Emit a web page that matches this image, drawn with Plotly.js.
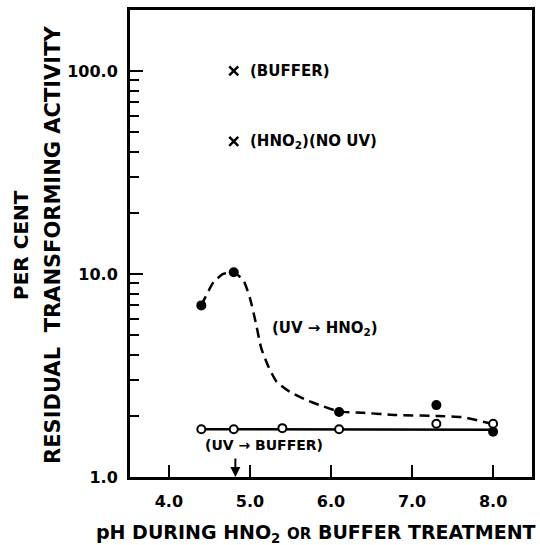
<!DOCTYPE html>
<html>
<head>
<meta charset="utf-8">
<script src="https://cdn.plot.ly/plotly-3.0.1.min.js"></script>
<style>html,body{margin:0;padding:0;background:#fff;}#chart{width:540px;height:545px;}</style>
</head>
<body>
<div id="chart"></div>
<script>
// UV -> HNO2 (filled circles)
var hno2X = [4.4, 4.8, 6.1, 7.3, 8.0];
var hno2Y = [7.0, 10.2, 2.09, 2.26, 1.67];
// UV -> buffer (open circles)
var bufX = [4.4, 4.8, 5.4, 6.1, 7.3, 8.0];
var bufY = [1.72, 1.72, 1.74, 1.72, 1.83, 1.83];
// hand-drawn dashed curve through the UV -> HNO2 data
var curveX = [4.4, 4.55, 4.67, 4.8, 4.92, 5.0, 5.07, 5.14, 5.23, 5.33, 5.49, 5.70, 5.90, 6.1, 6.4, 6.8, 7.3, 7.63, 7.88, 8.0];
var curveY = [7.0, 9.1, 10.0, 10.2, 9.3, 7.6, 5.8, 4.3, 3.48, 2.94, 2.63, 2.39, 2.23, 2.10, 2.07, 2.02, 2.00, 1.97, 1.87, 1.82];
// solid line through the UV -> buffer data
var lineX = [4.4, 8.0];
var lineY = [1.72, 1.71];
// controls (X marks)
var ctrlX = [4.8, 4.8];
var ctrlY = [100, 45];
var ctrlLabels = ["(BUFFER)", "(HNO<sub>2</sub>)(NO UV)"];
// axis ticks
var yTickVals = [1, 10, 100];
var yTickText = ["1.0", "10.0", "100.0"];
var yMinorVals = [2,3,4,5,6,7,8,9,20,30,40,50,60,70,80,90,200];
var xTickVals = [4, 5, 6, 7, 8];
var xTickText = ["4.0", "5.0", "6.0", "7.0", "8.0"];
var arrowX = 4.82;

var FONT = "DejaVu Sans, sans-serif";
var traces = [
  {x: curveX, y: curveY, mode: "lines", line: {color: "#000", width: 2.5, dash: "10px,6px", shape: "spline", smoothing: 0.5}, hoverinfo: "skip"},
  {x: lineX, y: lineY, mode: "lines", line: {color: "#000", width: 2.5}, hoverinfo: "skip"},
  {x: hno2X, y: hno2Y, mode: "markers", marker: {color: "#000", size: 10, symbol: "circle"}},
  {x: bufX, y: bufY, mode: "markers", marker: {color: "#fff", size: 8, symbol: "circle", line: {color: "#000", width: 2}}},
  {x: ctrlX, y: ctrlY, mode: "markers", marker: {color: "#000", size: 9, symbol: "x-thin", line: {color: "#000", width: 2.5}}}
];

var ann = [];
for (var i = 0; i < ctrlX.length; i++) {
  ann.push({x: 4.975, y: Math.log10(ctrlY[i]), xref: "x", yref: "y", text: ctrlLabels[i], showarrow: false, xanchor: "left", yanchor: "middle", font: {family: FONT, size: 15, color: "#000", weight: "bold"}});
}
ann.push({x: 5.25, y: Math.log10(5.4), xref: "x", yref: "y", text: "(UV \u2192 HNO<sub>2</sub>)", showarrow: false, xanchor: "left", yanchor: "middle", font: {family: FONT, size: 15, color: "#000", weight: "bold"}});
ann.push({x: 4.42, y: Math.log10(1.44), xref: "x", yref: "y", text: "(UV \u2192 BUFFER)", showarrow: false, xanchor: "left", yanchor: "middle", font: {family: FONT, size: 14, color: "#000", weight: "bold"}});
ann.push({x: arrowX, y: 0, xref: "x", yref: "y", text: "", showarrow: true, ax: 0, ay: -20, arrowhead: 2, arrowsize: 1, arrowwidth: 2, arrowcolor: "#000", standoff: 0});
ann.push({x: -0.271, y: 0.497, xref: "paper", yref: "paper", text: "PER CENT", textangle: -90, showarrow: false, xanchor: "center", yanchor: "middle", font: {family: FONT, size: 20, color: "#000", weight: "bold"}});
ann.push({x: -0.1915, y: 0.497, xref: "paper", yref: "paper", text: "RESIDUAL  TRANSFORMING ACTIVITY", textangle: -90, showarrow: false, xanchor: "center", yanchor: "middle", font: {family: FONT, size: 21, color: "#000", weight: "bold"}});
ann.push({x: 0.463, y: -0.122, xref: "paper", yref: "paper", text: "pH DURING HNO<sub>2</sub> <span style='font-size:15px'>OR</span> BUFFER TREATMENT", showarrow: false, xanchor: "center", yanchor: "middle", font: {family: FONT, size: 19, color: "#000", weight: "bold"}});

var layout = {
  width: 540, height: 545,
  margin: {l: 130, r: 8, t: 10, b: 68},
  paper_bgcolor: "#fff", plot_bgcolor: "#fff",
  showlegend: false,
  font: {family: FONT, color: "#000"},
  xaxis: {
    range: [3.52, 8.48], showgrid: false, zeroline: false,
    showline: true, mirror: true, linewidth: 3, linecolor: "#000",
    ticks: "inside", ticklen: 12, tickwidth: 2.5, tickcolor: "#000",
    tickvals: xTickVals, ticktext: xTickText,
    tickfont: {family: FONT, size: 16, color: "#000", weight: "bold"},
    ticklabelstandoff: 8
  },
  yaxis: {
    type: "log", range: [0, 2.3], showgrid: false, zeroline: false,
    showline: true, mirror: true, linewidth: 3, linecolor: "#000",
    ticks: "inside", ticklen: 13, tickwidth: 2.5, tickcolor: "#000",
    tickvals: yTickVals, ticktext: yTickText,
    tickfont: {family: FONT, size: 16, color: "#000", weight: "bold"},
    ticklabelstandoff: 6,
    minor: {tickvals: yMinorVals, ticks: "inside", ticklen: 9, tickwidth: 2, tickcolor: "#000", showgrid: false}
  },
  annotations: ann
};

Plotly.newPlot("chart", traces, layout, {staticPlot: true, displayModeBar: false});
</script>
</body>
</html>
